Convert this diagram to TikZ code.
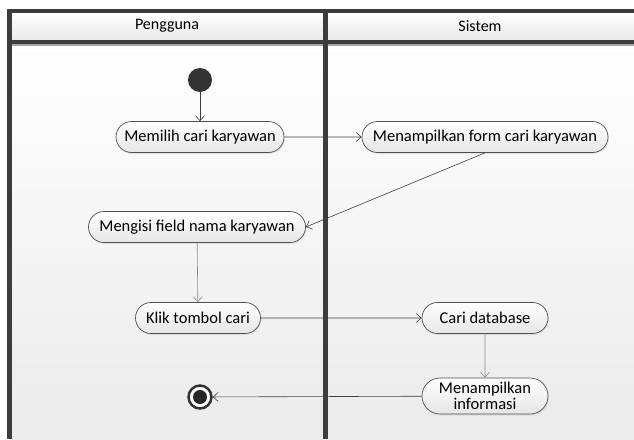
\documentclass[tikz,border=0pt]{standalone}
\usepackage{fontspec}
\setmainfont{Carlito}
\usetikzlibrary{arrows.meta,shapes.misc,shadows}
\definecolor{lane}{HTML}{3C3C3C}
\definecolor{nodeline}{HTML}{505050}
\tikzset{
  act/.style={rounded rectangle, draw=nodeline, line width=0.7pt, top color=white, bottom color=black!10,
    minimum height=31pt, inner xsep=4pt, font=\fontsize{16.5}{17}\selectfont, text=black, align=center,
    drop shadow={opacity=0.15, shadow xshift=1pt, shadow yshift=-1.5pt}},
  flow/.style={draw=black!75, line width=0.6pt, -{Straight Barb[length=5pt,width=9pt]}},
  lanetext/.style={font=\fontsize{16}{18}\selectfont, text=black},
}
\begin{document}
\begin{tikzpicture}[x=1pt,y=-1pt]
\useasboundingbox (0,0) rectangle (634,439);
% background
\fill[white] (0,0) rectangle (634,439);
\shade[top color=white, bottom color=black!8] (10,42) rectangle (634,439);
% header
\shade[top color=white, bottom color=black!9] (10,11) rectangle (634,42);
\fill[lane] (7,9) rectangle (634,13);
\fill[lane] (7,40) rectangle (634,44);
\fill[black!35] (10,44) rectangle (634,46);
\fill[lane] (7,9) rectangle (12,439);
\fill[lane] (323,9) rectangle (328,439);
\node[lanetext] (hp) at (167,26) {Pengguna};
\node[lanetext] (hs) at (480,26) {Sistem};
% nodes
\node[circle, fill=black!80, minimum size=24pt, inner sep=0pt] (start) at (200,80) {};
\node[act, minimum width=176pt] (n1) at (200,137) {Memilih cari karyawan};
\node[act, minimum width=254pt] (n2) at (485,137) {Menampilkan form cari karyawan};
\node[act, minimum width=225pt] (n3) at (197,227) {Mengisi field nama karyawan};
\node[act, minimum width=133pt] (n4) at (198,318) {Klik tombol cari};
\node[act, minimum width=134pt] (n5) at (485,318) {Cari database};
\node[act, minimum width=134pt, minimum height=36pt, inner ysep=1pt, font=\fontsize{16.5}{16}\selectfont] (n6) at (485,396) {Menampilkan\\informasi};
\node[circle, draw=black!80, line width=2.5pt, fill=white, minimum size=23pt, inner sep=0pt] (end) at (200,397) {};
\fill[black!85] (end.center) circle (7pt);
% flows
\draw[flow] (start) -- (n1);
\draw[flow] (n1) -- (n2);
\draw[flow] (n2.south) ++(0,0) coordinate (c2) (c2) -- (n3.east);
\draw[flow, draw=black!45] (n3) -- (n4);
\draw[flow] (n4) -- (n5);
\draw[flow, draw=black!45] (n5) -- (n6);
\draw[flow] (n6) -- (end);
\end{tikzpicture}
\end{document}
